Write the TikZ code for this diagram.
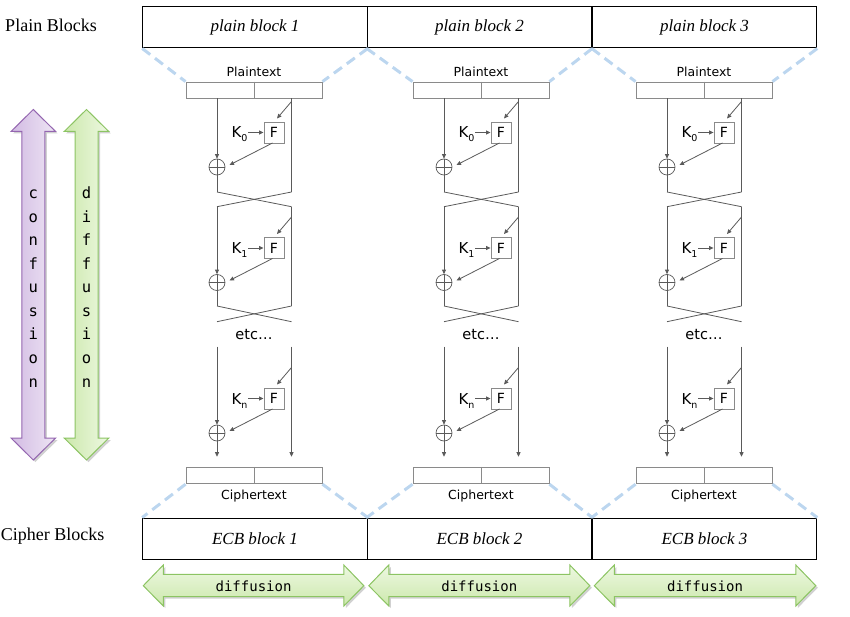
\documentclass[tikz,border=0pt]{standalone}
\usepackage{fontspec}
\setmainfont{Liberation Serif}
\setsansfont{DejaVu Sans}
\setmonofont{DejaVu Sans Mono}
\usetikzlibrary{arrows.meta,calc}
\definecolor{lineg}{HTML}{5A5A5A}
\definecolor{boxg}{HTML}{8A8A8A}
\definecolor{dashblue}{HTML}{BCD6EF}
\definecolor{purpA}{HTML}{D2BBE3}
\definecolor{purpB}{HTML}{EEE5F4}
\definecolor{purpD}{HTML}{9466B0}
\definecolor{grnA}{HTML}{CCE8AC}
\definecolor{grnB}{HTML}{EDF8E1}
\definecolor{grnD}{HTML}{8CC463}
\newcommand{\ksub}[1]{K\raisebox{-4pt}{\fontsize{9.5}{10}\selectfont #1}}
\tikzset{
  blockbox/.style={draw=black, line width=1pt, minimum width=224.5pt, minimum height=41pt, inner sep=0pt, font=\itshape\fontsize{17}{20}\selectfont},
  rowlbl/.style={font=\fontsize{18}{21}\selectfont, inner sep=0pt},
  txtbox/.style={draw=boxg, line width=0.9pt, minimum width=136pt, minimum height=16.5pt, inner sep=0pt},
  sanslbl/.style={font=\sffamily\fontsize{12.5}{14}\selectfont, inner sep=0pt},
  fbox/.style={draw=boxg, fill=white, line width=0.9pt, minimum width=20pt, minimum height=21pt, inner sep=0pt, font=\sffamily\fontsize{14}{16}\selectfont},
  klbl/.style={font=\sffamily\fontsize{15}{17}\selectfont, inner sep=0pt},
  xorc/.style={circle, draw=lineg, line width=0.7pt, minimum size=16pt, inner sep=0pt},
  wire/.style={draw=lineg, line width=0.8pt},
  arr/.style={wire, -{Triangle[length=4.5pt,width=4pt]}},
  dashl/.style={draw=dashblue, line width=3pt, dash pattern=on 10pt off 6pt},
  vletter/.style={font=\ttfamily\fontsize{15.5}{17}\selectfont, inner sep=0pt, anchor=base},
  hlbl/.style={font=\ttfamily\fontsize{14}{16}\selectfont, inner sep=0pt},
  shadowfill/.style={fill=black, opacity=0.18}
}
\begin{document}
\begin{tikzpicture}[x=1pt,y=-1pt]
\useasboundingbox (0,0) rectangle (850,617);

% row labels
\node[rowlbl] (plainlbl) at (51,25) {Plain Blocks};
\node[rowlbl] (cipherlbl) at (52.5,536) {Cipher Blocks};

% top and bottom block rows
\node[blockbox] (pb1) at (255,27.5) {plain block 1};
\node[blockbox] (pb2) at (479.5,27.5) {plain block 2};
\node[blockbox] (pb3) at (704.5,27.5) {plain block 3};
\node[blockbox] (cb1) at (255,538.5) {ECB block 1};
\node[blockbox] (cb2) at (479.5,538.5) {ECB block 2};
\node[blockbox] (cb3) at (704.5,538.5) {ECB block 3};

% vertical double arrows
\fill[shadowfill] (35.3,111.5) -- (57.6,133.5) -- (46.8,133.5) -- (46.8,440) -- (57.6,440) -- (35.3,462) -- (13,440) -- (23.8,440) -- (23.8,133.5) -- (13,133.5) -- cycle;
\path[draw=purpD, line width=1pt, left color=purpA, right color=purpB, line join=miter]
  (33.3,109.5) -- (55.6,131.5) -- (44.8,131.5) -- (44.8,438) -- (55.6,438) -- (33.3,460) -- (11,438) -- (21.8,438) -- (21.8,131.5) -- (11,131.5) -- cycle;
\fill[shadowfill] (88.5,111.5) -- (110.8,133.5) -- (100,133.5) -- (100,440) -- (110.8,440) -- (88.5,462) -- (66.2,440) -- (77,440) -- (77,133.5) -- (66.2,133.5) -- cycle;
\path[draw=grnD, line width=1pt, left color=grnA, right color=grnB, line join=miter]
  (86.5,109.5) -- (108.8,131.5) -- (98,131.5) -- (98,438) -- (108.8,438) -- (86.5,460) -- (64.2,438) -- (75,438) -- (75,131.5) -- (64.2,131.5) -- cycle;
\foreach \l [count=\i from 0] in {c,o,n,f,u,s,i,o,n}
  \node[vletter] (conf\i) at (33.3,{198.6+23.55*\i}) {\l};
\foreach \l [count=\i from 0] in {d,i,f,f,u,s,i,o,n}
  \node[vletter] (diff\i) at (86.5,{198.6+23.55*\i}) {\l};

% horizontal double arrows
\foreach \L/\R [count=\k] in {143.3/363.8, 368.8/589.8, 594.3/815.8}{
  \fill[shadowfill] ($(\L,587.7)+(2,0)$) -- (\L+22,567) -- (\L+22,576.3) -- (\R-18,576.3) -- (\R-18,567) -- (\R+2,587.7) -- (\R-18,608) -- (\R-18,598.7) -- (\L+22,598.7) -- (\L+22,608) -- cycle;
  \path[draw=grnD, line width=1pt, top color=grnB, bottom color=grnA, line join=miter]
    (\L,585.7) -- (\L+20,565) -- (\L+20,574.3) -- (\R-20,574.3) -- (\R-20,565) -- (\R,585.7) -- (\R-20,606) -- (\R-20,596.7) -- (\L+20,596.7) -- (\L+20,606) -- cycle;
  \node[hlbl] (hd\k) at ({(\L+\R)/2},586) {diffusion};
}

% Feistel networks
\foreach \b/\dx in {1/0,2/227,3/450}{
\begin{scope}[xshift=\dx]
  \node[txtbox] (pt\b) at (254,90.3) {};
  \draw[draw=boxg, line width=0.9pt] (pt\b.north) -- (pt\b.south);
  \node[sanslbl] (ptl\b) at (254,72) {Plaintext};
  \node[txtbox] (ct\b) at (254,475.5) {};
  \draw[draw=boxg, line width=0.9pt] (ct\b.north) -- (ct\b.south);
  \node[sanslbl] (ctl\b) at (254,496) {Ciphertext};
  \node[font=\sffamily\fontsize{14.5}{17}\selectfont, inner sep=0pt] (etc\b) at (254,335) {etc…};

  \foreach \s/\fy in {0/132.5,1/248,n/398.5}{
    \node[fbox] (F\s-\b) at (274,\fy) {F};
    \node[klbl, anchor=base] (K\s-\b) at (239.5,{\fy+5.5}) {\ksub{\s}};
    \node[xorc] (X\s-\b) at (217,{\fy+34.5}) {};
    \draw[wire, line width=0.7pt] (X\s-\b.north) -- (X\s-\b.south) (X\s-\b.west) -- (X\s-\b.east);
    \coordinate (ks\s-\b) at (248,\fy);
    \draw[arr] (ks\s-\b) -- (F\s-\b.west);
    \coordinate (ds\s-\b) at (291.5,{\fy-31});
    \coordinate (de\s-\b) at (277,{\fy-14});
    \draw[arr] (ds\s-\b) -- (de\s-\b);
    \coordinate (fs\s-\b) at (272.5,{\fy+10.5});
    \coordinate (fe\s-\b) at (229.5,{\fy+32.5});
    \draw[arr] (fs\s-\b) -- (fe\s-\b);
  }
  % stage 0 wires
  \coordinate (l0t-\b) at (217,98.3);
  \coordinate (r0t-\b) at (291.5,98.3);
  \coordinate (l0b-\b) at (217,192);
  \coordinate (r0b-\b) at (291.5,192);
  \coordinate (l1t-\b) at (217,206.7);
  \coordinate (r1t-\b) at (291.5,206.7);
  \draw[arr] (l0t-\b) -- (X0-\b.north);
  \draw[wire] (r0t-\b) -- (r0b-\b);
  \draw[wire] (X0-\b.south) -- (l0b-\b);
  \draw[wire] (l0b-\b) -- (r1t-\b);
  \draw[wire] (r0b-\b) -- (l1t-\b);
  % stage 1 wires
  \coordinate (l1b-\b) at (217,306);
  \coordinate (r1b-\b) at (291.5,306);
  \coordinate (l2t-\b) at (217,321.7);
  \coordinate (r2t-\b) at (291.5,321.7);
  \draw[arr] (l1t-\b) -- (X1-\b.north);
  \draw[wire] (r1t-\b) -- (r1b-\b);
  \draw[wire] (X1-\b.south) -- (l1b-\b);
  \draw[wire] (l1b-\b) -- (r2t-\b);
  \draw[wire] (r1b-\b) -- (l2t-\b);
  % stage n wires
  \coordinate (lnt-\b) at (217,346.7);
  \coordinate (rnt-\b) at (291.5,346.7);
  \coordinate (lnb-\b) at (217,456.7);
  \coordinate (rnb-\b) at (291.5,456.7);
  \draw[arr] (lnt-\b) -- (Xn-\b.north);
  \draw[arr] (rnt-\b) -- (rnb-\b);
  \draw[arr] (Xn-\b.south) -- (lnb-\b);
\end{scope}
}

% dashed blue guides
\draw[dashl] (pb1.south west) -- (pt1.north west);
\draw[dashl] (pb1.south east) -- (pt1.north east);
\draw[dashl] (pb2.south west) -- (pt2.north west);
\draw[dashl] (pb2.south east) -- (pt2.north east);
\draw[dashl] (pb3.south west) -- (pt3.north west);
\draw[dashl] (pb3.south east) -- (pt3.north east);
\draw[dashl] (ct1.south west) -- (cb1.north west);
\draw[dashl] (ct1.south east) -- (cb1.north east);
\draw[dashl] (ct2.south west) -- (cb2.north west);
\draw[dashl] (ct2.south east) -- (cb2.north east);
\draw[dashl] (ct3.south west) -- (cb3.north west);
\draw[dashl] (ct3.south east) -- (cb3.north east);
\end{tikzpicture}
\end{document}
